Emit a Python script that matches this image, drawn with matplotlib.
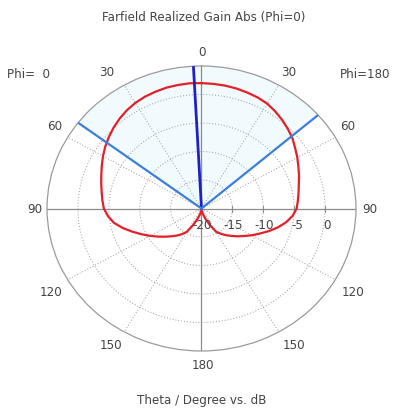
import numpy as np
import matplotlib
matplotlib.use("Agg")
import matplotlib.pyplot as plt

# theta in degrees, gain in dB
theta = [0, 5, 10, 15, 20, 25, 30, 35, 40, 45, 50, 55, 60, 65, 70, 75, 80, 85, 90,
         95, 100, 105, 110, 115, 120, 125, 130, 135, 140, 145, 150, 155, 160, 165, 170, 175, 180]
gain_phi0 = [2.0, 2.05, 2.0, 1.95, 1.8, 1.65, 1.4, 1.05, 0.6, 0.1, -0.45, -1.0, -1.6, -2.2, -2.75, -3.2, -3.6, -3.9, -4.2,
             -4.8, -5.6, -6.8, -8.1, -9.3, -10.4, -11.4, -12.3, -13.1, -13.8, -14.5, -15.3, -16.8, -18.0, -18.8, -19.3, -19.5, -19.5]
gain_phi180 = [2.0, 1.95, 1.9, 1.8, 1.65, 1.5, 1.25, 0.8, 0.3, -0.25, -0.8, -1.5, -2.1, -2.7, -3.2, -3.7, -4.05, -4.35, -4.6,
               -5.2, -6.1, -7.2, -8.4, -9.6, -10.6, -11.6, -12.4, -13.2, -13.9, -14.6, -15.3, -16.8, -18.0, -18.8, -19.3, -19.5, -19.5]

main_lobe = 3          # deg, towards phi=0 side
beam_edge_phi0 = 53    # 3 dB edges
beam_edge_phi180 = 49

r_ticks = [-15, -10, -5, 0]
r_min, r_max = -20, 5

grey = "#9a9a9a"
txt = "#444444"

fig = plt.figure(figsize=(4, 4.11), dpi=100)
ax = fig.add_axes([0.1175, 0.146, 0.7725, 0.6934], projection="polar")
ax.set_aspect("auto")
ax.set_theta_zero_location("N")
ax.set_ylim(r_min, r_max)
ax.grid(False)
ax.set_xticklabels([])
ax.set_yticklabels([])
ax.spines["polar"].set_color(grey)
ax.spines["polar"].set_linewidth(0.9)

# shaded 3 dB beam sector
sec = np.radians(np.linspace(-beam_edge_phi180, beam_edge_phi0, 200))
ax.fill_between(sec, r_min, r_max, color="#f1fbfd", zorder=0, lw=0)

# grid rings and spokes
full = np.linspace(0, 2 * np.pi, 400)
for r in r_ticks:
    ax.plot(full, np.full_like(full, r), color=grey, lw=0.7, ls=(0, (1, 2)), zorder=1)
for a in [30, 60, 120, 150]:
    for s in (1, -1):
        ax.plot([np.radians(s * a)] * 2, [r_min, r_max], color=grey, lw=0.7, ls=(0, (1, 2)), zorder=1)
for a in [0, 90, 180, 270]:
    ax.plot([np.radians(a)] * 2, [r_min, r_max], color="#8c8c8c", lw=0.9, zorder=1)
# small ticks on the radial scale
for r in r_ticks:
    ax.plot([np.radians(-90)], [r], marker="|", ms=5, color="#8c8c8c", mew=0.8, zorder=1)

# gain curve: phi=0 on left (ccw), phi=180 on right
th = np.radians(theta)
ax.plot(th, gain_phi0, color="#e0202a", lw=1.6, zorder=3)
ax.plot(-th, gain_phi180, color="#e0202a", lw=1.6, zorder=3)

# main lobe and 3 dB lines
ax.plot([np.radians(main_lobe)] * 2, [r_min, r_max], color="#2020c8", lw=2.0, zorder=4)
ax.plot([np.radians(beam_edge_phi0)] * 2, [r_min, r_max], color="#3c7fd8", lw=1.6, zorder=4)
ax.plot([np.radians(-beam_edge_phi180)] * 2, [r_min, r_max], color="#3c7fd8", lw=1.6, zorder=4)

fs = 8.6


def ftext(x, y, s, **kw):
    fig.text(x / 400, 1 - y / 411, s, ha="center", va="center", fontsize=fs, color=txt, **kw)


ftext(204, 18, "Farfield Realized Gain Abs (Phi=0)")
ftext(28, 75, "Phi=  0")
ftext(365, 75, "Phi=180")
ftext(202, 52, "0")
ftext(107, 72, "30")
ftext(289, 72, "30")
ftext(55, 126, "60")
ftext(348, 126, "60")
ftext(35, 209, "90")
ftext(370, 209, "90")
ftext(51, 292, "120")
ftext(353, 292, "120")
ftext(111, 345, "150")
ftext(294, 345, "150")
ftext(203, 365, "180")
ftext(202, 400, "Theta / Degree vs. dB")
for x, s in zip([202, 233, 264, 297, 327], ["-20", "-15", "-10", "-5", "0"]):
    ftext(x, 225, s)

fig.savefig("out.png", dpi=100)
